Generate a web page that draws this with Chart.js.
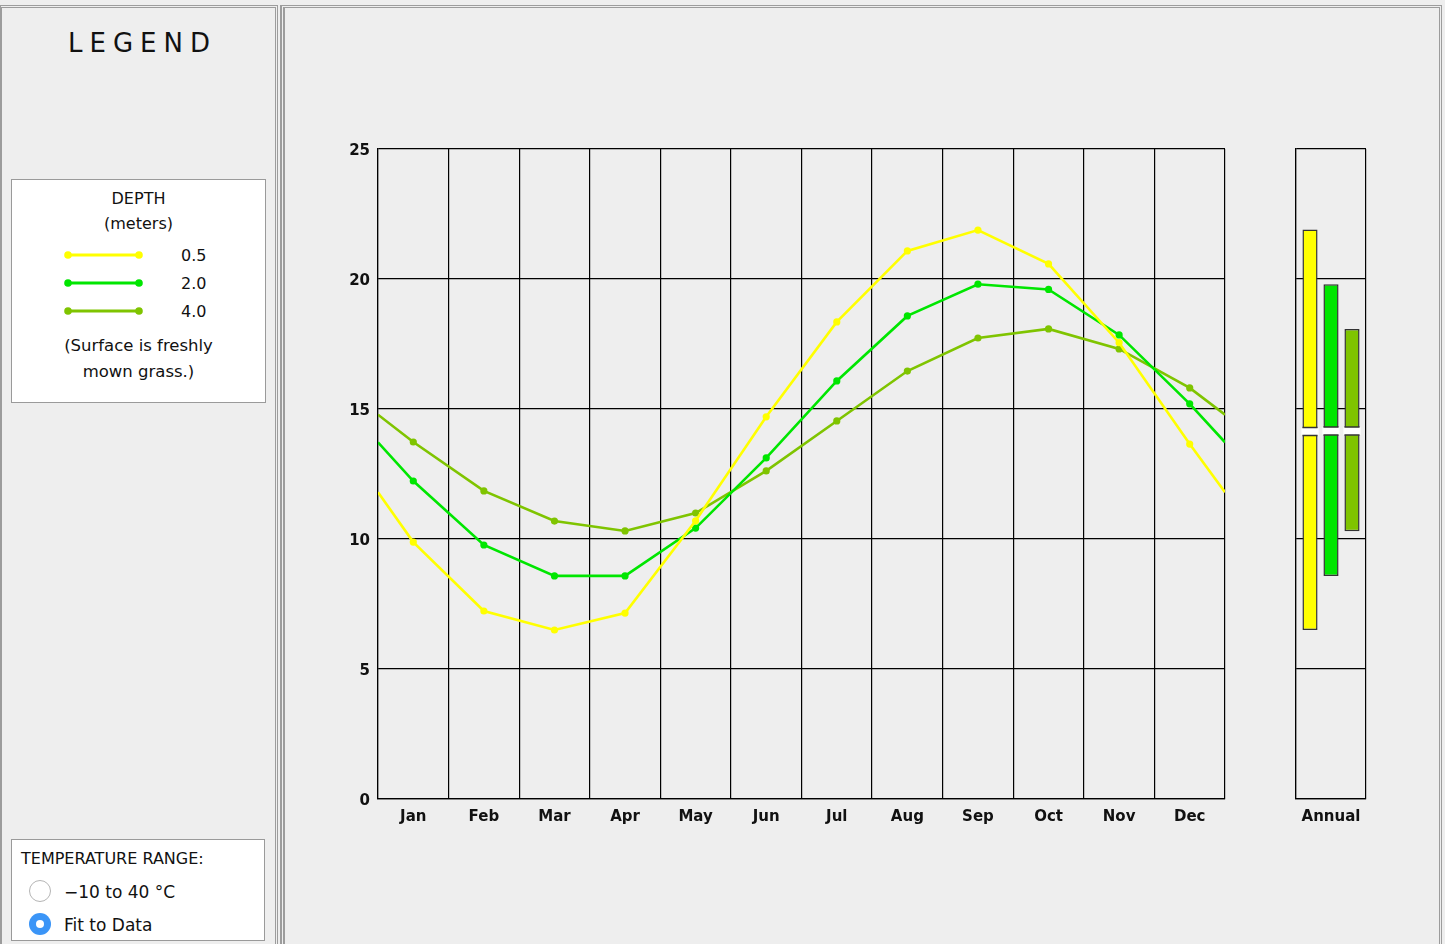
<!DOCTYPE html>
<html>
<head>
<meta charset="utf-8">
<script src="https://cdn.jsdelivr.net/npm/chart.js@4.4.1/dist/chart.umd.min.js"></script>
<style>
  html, body { margin: 0; padding: 0; }
  body { width: 1445px; height: 944px; background: #eeeeee; position: relative; overflow: hidden;
         font-family: "DejaVu Sans", sans-serif; color: #111; }
  .abs { position: absolute; }
  .frame { position: absolute; box-sizing: border-box; }
  .txt { position: absolute; white-space: nowrap; height: 22px; line-height: 22px; }
  .center { text-align: center; }
  .box { position: absolute; box-sizing: border-box; background: #fff; border: 1px solid #9a9a9a; }
  .radio { position: absolute; width: 22px; height: 22px; border-radius: 50%; box-sizing: border-box; }
</style>
</head>
<body>
<!-- panel frames -->
<div class="frame" style="left:0;top:5px;width:278px;height:945px;border-left:2px solid #9c9c9c;border-top:3px double #9c9c9c;border-right:3px double #9c9c9c;"></div>
<div class="frame" style="left:280px;top:5px;width:1162px;height:945px;border-left:5px double #9c9c9c;border-top:3px double #9c9c9c;border-right:3px double #9c9c9c;"></div>

<!-- legend panel -->
<div class="txt" style="left:68px;top:30px;height:26px;line-height:26px;font-size:26px;letter-spacing:7px;">LEGEND</div>
<div class="box" style="left:11px;top:179px;width:255px;height:224px;"></div>
<div class="txt center" style="left:11px;width:255px;top:188px;font-size:16px;">DEPTH</div>
<div class="txt center" style="left:11px;width:255px;top:213px;font-size:16px;">(meters)</div>
<div id="legendRows"></div>
<div class="txt center" style="left:11px;width:255px;top:335px;font-size:16.5px;">(Surface is freshly</div>
<div class="txt center" style="left:11px;width:255px;top:361px;font-size:16.5px;">mown grass.)</div>

<div class="box" style="left:11px;top:839px;width:254px;height:102px;"></div>
<div class="txt" style="left:21px;top:848px;font-size:16px;">TEMPERATURE RANGE:</div>
<div class="radio" style="left:29px;top:880px;border:1px solid #b5b5b5;background:#fff;"></div>
<div class="txt" style="left:64px;top:881px;font-size:17px;">&#8722;10 to 40 &#176;C</div>
<div class="radio" style="left:29px;top:913px;background:#3b95f7;"></div>
<div class="abs" style="left:36px;top:920px;width:8px;height:8px;border-radius:50%;background:#fff;"></div>
<div class="txt" style="left:64px;top:914px;font-size:17px;">Fit to Data</div>

<!-- charts -->
<canvas id="monthly" class="abs" width="910" height="710" style="left:330px;top:131px;width:910px;height:710px;"></canvas>
<canvas id="annual" class="abs" width="130" height="710" style="left:1260px;top:131px;width:130px;height:710px;"></canvas>

<script>
// ---- data ----
const months = ['Jan', 'Feb', 'Mar', 'Apr', 'May', 'Jun', 'Jul', 'Aug', 'Sep', 'Oct', 'Nov', 'Dec'];
const depths = ['0.5', '2.0', '4.0'];
const depth05 = [9.88, 7.23, 6.5, 7.15, 10.7, 14.7, 18.35, 21.08, 21.88, 20.58, 17.55, 13.65];
const depth20 = [12.23, 9.77, 8.58, 8.58, 10.42, 13.12, 16.08, 18.58, 19.8, 19.6, 17.85, 15.2];
const depth40 = [13.73, 11.85, 10.69, 10.31, 11.0, 12.62, 14.54, 16.46, 17.73, 18.08, 17.31, 15.81];
// value where each curve meets the year boundary (left/right plot edge)
const yearBoundary = [11.8, 13.72, 14.78];
const annualLow = [6.5, 8.58, 10.3];
const annualHigh = [21.9, 19.8, 18.08];
const annualMean = [14.13, 14.15, 14.15];
const yTicks = [0, 5, 10, 15, 20, 25];

const seriesColors = ['#ffff00', '#00e600', '#7fc400'];
const series = [depth05, depth20, depth40];

// legend samples
const rows = document.getElementById('legendRows');
[255, 283, 311].forEach((cy, i) => {
  const c = seriesColors[i];
  rows.insertAdjacentHTML('beforeend',
    `<svg class="abs" style="left:60px;top:${cy - 6}px" width="90" height="12">
       <line x1="8" y1="6" x2="79" y2="6" stroke="${c}" stroke-width="3"/>
       <circle cx="8" cy="6" r="3.8" fill="${c}"/><circle cx="79" cy="6" r="3.8" fill="${c}"/>
     </svg>
     <div class="txt" style="left:181px;top:${cy - 10}px;font-size:16px;">${depths[i]}</div>`);
});

const tickFont = { family: 'DejaVu Sans', size: 15, weight: 'bold' };
// y labels sit a little below their grid line: second line of a two-line label
const yTickFont = { family: 'DejaVu Sans', size: 15, weight: 'bold', lineHeight: '5px' };

new Chart(document.getElementById('monthly'), {
  type: 'line',
  data: {
    datasets: series.map((vals, i) => ({
      label: depths[i],
      data: [{ x: 0, y: yearBoundary[i] }]
        .concat(vals.map((v, m) => ({ x: m + 0.5, y: v })))
        .concat([{ x: 12, y: yearBoundary[i] }]),
      borderColor: seriesColors[i],
      backgroundColor: seriesColors[i],
      borderWidth: 2.6,
      pointRadius: ctx => (ctx.dataIndex === 0 || ctx.dataIndex === 13) ? 0 : 3.6,
      pointBorderWidth: 0,
      tension: 0
    }))
  },
  options: {
    responsive: false,
    animation: false,
    devicePixelRatio: 1,
    layout: { padding: { top: 18, right: 15, left: 0, bottom: 0 } },
    plugins: { legend: { display: false }, tooltip: { enabled: false } },
    scales: {
      x: {
        type: 'linear', min: 0, max: 12,
        afterBuildTicks: axis => {
          axis.ticks = [];
          for (let k = 0; k <= 24; k++) axis.ticks.push({ value: k / 2 });
        },
        afterFit: scale => { scale.height = 42; },
        grid: {
          color: ctx => Number.isInteger(ctx.tick && ctx.tick.value) ? '#000' : 'rgba(0,0,0,0)',
          lineWidth: 1.2, drawTicks: false
        },
        border: { color: '#000', width: 1.2 },
        ticks: {
          autoSkip: false, maxRotation: 0, padding: 9, color: '#111', font: tickFont,
          callback: v => Number.isInteger(v) ? '' : months[Math.floor(v)]
        }
      },
      y: {
        min: 0, max: 25,
        afterBuildTicks: axis => { axis.ticks = yTicks.map(v => ({ value: v })); },
        afterFit: scale => { scale.width = 48; },
        grid: { color: '#000', lineWidth: 1.2, drawTicks: false },
        border: { color: '#000', width: 1.2 },
        ticks: { padding: 8, color: '#111', font: yTickFont, callback: v => ['', String(v)] }
      }
    }
  }
});

const meanGap = {
  id: 'meanGap',
  afterDatasetsDraw(chart) {
    const ctx = chart.ctx;
    const yScale = chart.scales.y;
    chart.data.datasets.forEach((ds, i) => {
      const bar = chart.getDatasetMeta(i).data[0];
      const { x, width } = bar.getProps(['x', 'width'], true);
      const y = yScale.getPixelForValue(annualMean[i]);
      ctx.save();
      ctx.fillStyle = '#fff';
      ctx.fillRect(x - width / 2 - 1, y - 4, width + 2, 8);
      ctx.strokeStyle = '#333';
      ctx.lineWidth = 1.5;
      ctx.beginPath();
      ctx.moveTo(x - width / 2, y - 4); ctx.lineTo(x + width / 2, y - 4);
      ctx.moveTo(x - width / 2, y + 4); ctx.lineTo(x + width / 2, y + 4);
      ctx.stroke();
      ctx.restore();
    });
  }
};

new Chart(document.getElementById('annual'), {
  type: 'bar',
  data: {
    labels: ['Annual'],
    datasets: depths.map((d, i) => ({
      label: d,
      data: [[annualLow[i], annualHigh[i]]],
      backgroundColor: seriesColors[i],
      borderColor: '#333',
      borderWidth: 1.5,
      borderSkipped: false,
      categoryPercentage: 0.9,
      barPercentage: 0.72
    }))
  },
  options: {
    responsive: false,
    animation: false,
    devicePixelRatio: 1,
    layout: { padding: { top: 18, right: 24, left: 0, bottom: 0 } },
    plugins: { legend: { display: false }, tooltip: { enabled: false } },
    scales: {
      x: {
        afterFit: scale => { scale.height = 42; },
        grid: { color: '#000', lineWidth: 1.2, drawTicks: false, offset: true },
        border: { color: '#000', width: 1.2 },
        ticks: { padding: 9, color: '#111', font: tickFont }
      },
      y: {
        min: 0, max: 25,
        afterBuildTicks: axis => { axis.ticks = yTicks.map(v => ({ value: v })); },
        afterFit: scale => { scale.width = 36; },
        grid: { color: '#000', lineWidth: 1.2, drawTicks: false },
        border: { color: '#000', width: 1.2 },
        ticks: { display: false }
      }
    }
  },
  plugins: [meanGap]
});
</script>
</body>
</html>
